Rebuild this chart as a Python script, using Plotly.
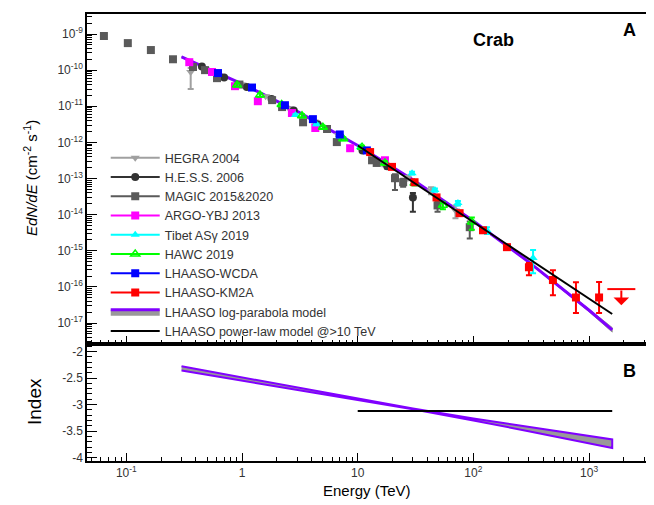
import plotly.graph_objects as go
import math

# ---------------- data ----------------
# HEGRA 2004
hegra_E = [0.36, 0.6, 1.0, 1.6, 2.6, 4.2, 6.8, 11, 17, 27, 43, 70]
hegra_F = [8.9e-11, 8.7e-11, 4.0e-11, 1.9e-11, 8.7e-12, 3.8e-12, 1.6e-12, 6.3e-13, 2.5e-13, 1.05e-13, 4.7e-14, 1.3e-14]
hegra_up = [2.6e-11, 6e-12, 2e-12, 1e-12, 5e-13, 2.5e-13, 1.2e-13, 6e-14, 3e-14, 1.5e-14, 1e-14, 5e-15]
hegra_lo = [5.9e-11, 6e-12, 2e-12, 1e-12, 5e-13, 2.5e-13, 1.2e-13, 6e-14, 3e-14, 1.5e-14, 1e-14, 5e-15]

# H.E.S.S. 2006
hess_E = [0.45, 0.7, 1.1, 1.8, 2.8, 4.5, 7.0, 11, 18, 30]
hess_F = [1.26e-10, 6.3e-11, 3.4e-11, 1.58e-11, 7.6e-12, 3.2e-12, 1.45e-12, 6.0e-13, 2.2e-13, 3.0e-14]
hess_up = [6e-12, 3e-12, 1.5e-12, 8e-13, 4e-13, 2e-13, 1e-13, 5e-14, 3e-14, 1.0e-14]
hess_lo = [6e-12, 3e-12, 1.5e-12, 8e-13, 4e-13, 2e-13, 1e-13, 5e-14, 3e-14, 1.8e-14]

# MAGIC 2015&2020
magic_E = [0.064, 0.103, 0.163, 0.253, 0.377, 0.479, 0.608, 0.95, 1.82, 2.22, 3.37, 5.43, 6.6, 13.3, 14.6, 21, 24.7, 49, 93]
magic_F = [8.8e-10, 5.6e-10, 3.6e-10, 2.0e-10, 1.22e-10, 1.0e-10, 6.0e-11, 4.0e-11, 1.48e-11, 9.5e-12,
           3.6e-12, 2.35e-12, 1.02e-12, 3.2e-13, 2.7e-13, 1.02e-13, 7.9e-14, 1.8e-14, 4.5e-15]
magic_up = [3e-11, 2e-11, 1.2e-11, 7e-12, 4e-12, 3e-12, 2e-12, 1.5e-12, 6e-13, 4e-13,
            2e-13, 1.2e-13, 6e-14, 3e-14, 3e-14, 3e-14, 2e-14, 5e-15, 2e-15]
magic_lo = [3e-11, 2e-11, 1.2e-11, 7e-12, 4e-12, 3e-12, 2e-12, 1.5e-12, 6e-13, 4e-13,
            2e-13, 1.2e-13, 6e-14, 3e-14, 3e-14, 5.4e-14, 2e-14, 6e-15, 2.3e-15]

# ARGO-YBJ 2013
argo_E = [0.35, 0.55, 0.87, 1.37, 2.7, 4.3, 8.6, 17.2]
argo_F = [1.66e-10, 8.9e-11, 3.6e-11, 1.38e-11, 6.5e-12, 2.5e-12, 6.9e-13, 3.2e-13]
argo_up = [1.3e-11, 7e-12, 3e-12, 1.1e-12, 5e-13, 2e-13, 6e-14, 3e-14]
argo_lo = [1.3e-11, 7e-12, 3e-12, 1.1e-12, 5e-13, 2e-13, 6e-14, 3e-14]

# Tibet ASgamma 2019
tibet_E = [2.9, 4.4, 7.0, 10.5, 29.5, 46.5, 73.5, 131, 328]
tibet_F = [5.75e-12, 3.16e-12, 1.48e-12, 7.4e-13, 1.41e-13, 4.8e-14, 2.1e-14, 3.7e-15, 6.3e-16]
tibet_up = [4e-13, 2e-13, 1e-13, 5e-14, 1.2e-14, 5e-15, 3e-15, 8e-16, 4.2e-16]
tibet_lo = [4e-13, 2e-13, 1e-13, 5e-14, 1.2e-14, 5e-15, 3e-15, 8e-16, 3.9e-16]

# HAWC 2019
hawc_E = [0.905, 1.43, 2.2, 3.3, 5.0, 7.5, 10.9, 17.2, 31, 54.5, 97]
hawc_F = [3.9e-11, 2.04e-11, 1.12e-11, 5.5e-12, 2.63e-12, 1.26e-12, 7.4e-13, 2.7e-13, 7.4e-14, 1.82e-14, 6.3e-15]
hawc_up = [4e-12, 2e-12, 1e-12, 5e-13, 2.5e-13, 1.2e-13, 7e-14, 3e-14, 1e-14, 4e-15, 2e-15]
hawc_lo = [4e-12, 2e-12, 1e-12, 5e-13, 2.5e-13, 1.2e-13, 7e-14, 3e-14, 1e-14, 4e-15, 2.5e-15]

# LHAASO-WCDA
wcda_E = [0.62, 1.22, 2.35, 4.1, 7.0, 12.0]
wcda_F = [8.3e-11, 3.3e-11, 1.07e-11, 4.4e-12, 1.66e-12, 6.0e-13]
wcda_up = [3e-12, 1e-12, 3e-13, 1.3e-13, 5e-14, 2e-14]
wcda_lo = [3e-12, 1e-12, 3e-13, 1.3e-13, 5e-14, 2e-14]

# LHAASO-KM2A
km2a_E = [12.8, 19.8, 31, 48, 76, 121, 195, 302, 487, 770, 1220]
km2a_F = [5.4e-13, 2.1e-13, 7.9e-14, 3.0e-14, 1.1e-14, 3.7e-15, 1.26e-15, 3.5e-16, 1.55e-16, 5.1e-17, 5.1e-17]
km2a_up = [2e-14, 8e-15, 3e-15, 1.2e-15, 5e-16, 2e-16, 8e-17, 1.1e-16, 1.35e-16, 8.4e-17, 8.6e-17]
km2a_lo = [2e-14, 8e-15, 3e-15, 1.2e-15, 5e-16, 2e-16, 8e-17, 1.4e-16, 9.6e-17, 3.2e-17, 3.2e-17]
km2a_ul_E = [1900]
km2a_ul_F = [8.7e-17]

# LHAASO log-parabola model (flux) and its band
model_E = [0.3, 1, 3, 10, 30, 100, 300, 1000, 1585]
model_F = [2.33e-10, 4.2e-11, 7.2e-12, 8.2e-13, 9.2e-14, 6.67e-15, 4.93e-16, 2.26e-17, 6.5e-18]
model_F_lo = [2.26e-10, 4.12e-11, 7.1e-12, 8.12e-13, 9.1e-14, 6.55e-15, 4.7e-16, 2.05e-17, 5.6e-18]
model_F_hi = [2.40e-10, 4.28e-11, 7.3e-12, 8.28e-13, 9.3e-14, 6.8e-15, 5.15e-16, 2.5e-17, 7.5e-18]

# LHAASO power-law model above 10 TeV
pl_E = [10, 1585]
pl_F = [8.2e-13, 1.78e-17]

# Index panel
idx_E = [0.3, 1, 3, 10, 30, 100, 300, 1000, 1585]
idx_hi = [-2.28, -2.49, -2.68, -2.885, -3.073, -3.262, -3.42, -3.595, -3.655]
idx_lo = [-2.36, -2.55, -2.72, -2.915, -3.089, -3.298, -3.50, -3.725, -3.815]
pl_idx_E = [10, 1585]
pl_idx = [-3.12, -3.12]

# tick labels
x_tickvals = [0.1, 1, 10, 100, 1000]
x_ticktext = ["10<sup>-1</sup>", "1", "10", "10<sup>2</sup>", "10<sup>3</sup>"]
y_tickvals = [10.0 ** k for k in range(-17, -8)]
y_ticktext = ["10<sup>%d</sup>" % k for k in range(-17, -8)]
y2_tickvals = [-4, -3.5, -3, -2.5, -2]
y2_ticktext = ["-4", "-3.5", "-3", "-2.5", "-2"]

# ---------------- figure ----------------
PURPLE = "#8000ff"
BAND = "#999999"
FONT = "Liberation Sans"

fig = go.Figure()

# model band + line (top)
fig.add_trace(go.Scatter(x=model_E + model_E[::-1], y=model_F_hi + model_F_lo[::-1],
                         fill="toself", fillcolor=BAND, line=dict(color=BAND, width=1),
                         mode="lines", showlegend=False, hoverinfo="skip", xaxis="x", yaxis="y"))
fig.add_trace(go.Scatter(x=model_E, y=model_F, mode="lines", line=dict(color=PURPLE, width=3),
                         showlegend=False, hoverinfo="skip", xaxis="x", yaxis="y"))

series = [
    ("HEGRA 2004", hegra_E, hegra_F, hegra_up, hegra_lo, "#a0a0a0", "triangle-down", False),
    ("H.E.S.S. 2006", hess_E, hess_F, hess_up, hess_lo, "#333333", "circle", False),
    ("MAGIC 2015&2020", magic_E, magic_F, magic_up, magic_lo, "#5a5a5a", "square", False),
    ("ARGO-YBJ 2013", argo_E, argo_F, argo_up, argo_lo, "#ff00ff", "square", False),
    ("Tibet AS\u03b3 2019", tibet_E, tibet_F, tibet_up, tibet_lo, "#00ffff", "triangle-up", False),
    ("HAWC 2019", hawc_E, hawc_F, hawc_up, hawc_lo, "#00ff00", "triangle-up-open", True),
    ("LHAASO-WCDA", wcda_E, wcda_F, wcda_up, wcda_lo, "#0000ff", "square", False),
    ("LHAASO-KM2A", km2a_E, km2a_F, km2a_up, km2a_lo, "#ff0000", "square", False),
]

for rank, (name, E, F, up, lo, col, sym, is_open) in enumerate(series):
    mk = dict(symbol=sym, size=8, color=col, line=dict(width=1.5 if is_open else 0, color=col))
    fig.add_trace(go.Scatter(x=E, y=F, mode="markers", marker=mk,
                             error_y=dict(type="data", array=up, arrayminus=lo, color=col,
                                          thickness=2, width=3),
                             showlegend=False, hoverinfo="skip", xaxis="x", yaxis="y"))
    fig.add_trace(go.Scatter(x=[None], y=[None], mode="lines+markers", name=name, marker=mk,
                             line=dict(color=col, width=2), legendrank=rank + 1,
                             xaxis="x", yaxis="y"))

# KM2A upper limit
fig.add_trace(go.Scatter(x=km2a_ul_E, y=km2a_ul_F, mode="markers",
                         marker=dict(symbol="line-ew", size=20, line=dict(color="#ff0000", width=2)),
                         showlegend=False, hoverinfo="skip", xaxis="x", yaxis="y"))
for e, f in zip(km2a_ul_E, km2a_ul_F):
    fig.add_annotation(x=math.log10(e), y=math.log10(f) - 0.45, ax=math.log10(e), ay=math.log10(f),
                       xref="x", yref="y", axref="x", ayref="y", showarrow=True, arrowhead=1,
                       arrowsize=1.3, arrowwidth=2, arrowcolor="#ff0000", text="")

# power-law line (top)
fig.add_trace(go.Scatter(x=pl_E, y=pl_F, mode="lines", line=dict(color="black", width=2),
                         showlegend=False, hoverinfo="skip", xaxis="x", yaxis="y"))

# legend entries for the models
fig.add_trace(go.Scatter(x=[None], y=[None], mode="lines", fill="toself", fillcolor=BAND,
                         line=dict(color=PURPLE, width=3), name="LHAASO log-parabola model",
                         legendrank=9, xaxis="x", yaxis="y"))
fig.add_trace(go.Scatter(x=[None], y=[None], mode="lines", line=dict(color="black", width=2),
                         name="LHAASO power-law model @>10 TeV", legendrank=10, xaxis="x", yaxis="y"))

# Index panel
fig.add_trace(go.Scatter(x=idx_E + idx_E[::-1], y=idx_hi + idx_lo[::-1], fill="toself",
                         fillcolor=BAND, line=dict(color=PURPLE, width=2), mode="lines",
                         showlegend=False, hoverinfo="skip", xaxis="x2", yaxis="y2"))
fig.add_trace(go.Scatter(x=pl_idx_E, y=pl_idx, mode="lines", line=dict(color="black", width=2),
                         showlegend=False, hoverinfo="skip", xaxis="x2", yaxis="y2"))

x_minor = [m * 10.0 ** k for k in range(-2, 4) for m in range(2, 10)]
y_minor = [m * 10.0 ** k for k in range(-18, -8) for m in range(2, 10)]

X_RANGE = [-1.34, 3.492]
SPLIT = 117 / 447

axis_common = dict(showline=True, linecolor="black", linewidth=1.5, mirror=True, showgrid=False,
                   zeroline=False, ticks="inside", tickcolor="black", automargin=False,
                   tickfont=dict(family=FONT, size=12, color="#333333"))

# the page body has an 8 px default margin: the figure is sized/offset to compensate
fig.update_layout(
    width=646, height=497,
    margin=dict(l=79, r=8, t=6, b=44, autoexpand=False),
    paper_bgcolor="white", plot_bgcolor="white",
    font=dict(family=FONT, color="black"),
    xaxis=dict(type="log", range=X_RANGE, domain=[0, 1], anchor="y",
               tickmode="array", tickvals=x_tickvals, showticklabels=False, ticklen=8,
               minor=dict(ticks="inside", tickmode="array", tickvals=x_minor, ticklen=4,
                          tickcolor="black"),
               **axis_common),
    xaxis2=dict(type="log", range=X_RANGE, domain=[0, 1], anchor="y2", matches="x",
                tickmode="array", tickvals=x_tickvals, ticktext=x_ticktext, ticklen=8,
                minor=dict(ticks="inside", tickmode="array", tickvals=x_minor, ticklen=4,
                           tickcolor="black"),
                **axis_common),
    yaxis=dict(type="log", range=[-17.58, -8.446], domain=[SPLIT, 1], anchor="x",
               tickmode="array", tickvals=y_tickvals, ticktext=y_ticktext, ticklen=10,
               minor=dict(ticks="inside", tickmode="array", tickvals=y_minor, ticklen=5,
                          tickcolor="black"),
               **axis_common),
    yaxis2=dict(range=[-4.06, -1.86], domain=[0, SPLIT], anchor="x2",
                tickmode="array", tickvals=y2_tickvals, ticktext=y2_ticktext, ticklen=10,
                minor=dict(ticks="inside", dtick=0.1, ticklen=5, tickcolor="black"),
                **axis_common),
    legend=dict(x=0.0335, y=0.711, xanchor="left", yanchor="top", bgcolor="rgba(0,0,0,0)",
                font=dict(family=FONT, size=12.5, color="#333333"), itemwidth=49,
                tracegroupgap=0),
    showlegend=True,
)

ann_font = dict(family=FONT, color="black")
def label(text, x, y, size, angle=0):
    fig.add_annotation(text=text, xref="paper", yref="paper", x=x, y=y, textangle=angle,
                       xanchor="center", yanchor="middle", showarrow=False,
                       font=dict(size=size, **ann_font))

label("<i>EdN/dE</i> (cm<sup>-2</sup> s<sup>-1</sup>)", -0.102, 0.633, 15, -90)
label("Index", -0.093, 0.132, 19, -90)
label("Energy (TeV)", 0.501, -0.065, 15)
label("<b>Crab</b>", 0.728, 0.942, 18)
label("<b>A</b>", 0.9696, 0.964, 18)
label("<b>B</b>", 0.9696, 0.2013, 18)

fig.write_html("out.html")
